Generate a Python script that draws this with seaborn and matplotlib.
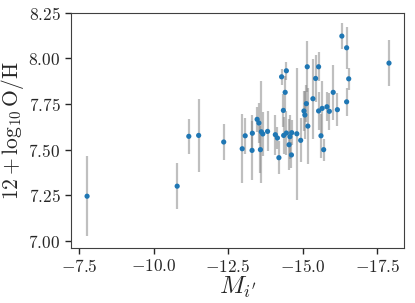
import numpy as np
import pandas as pd
import seaborn as sns
import matplotlib.pyplot as plt

# absolute magnitude, oxygen abundance and its uncertainty
mag_i = [-7.77, -10.79, -11.18, -11.51, -12.35, -12.97, -13.07, -13.30, -13.31,
         -13.47, -13.53, -13.58, -13.61, -13.66, -13.82, -14.08, -14.15, -14.20,
         -14.29, -14.35, -14.36, -14.41, -14.45, -14.45, -14.54, -14.57, -14.62,
         -14.63, -14.80, -14.93, -15.04, -15.07, -15.12, -15.15, -15.17, -15.34,
         -15.43, -15.53, -15.53, -15.61, -15.65, -15.70, -15.81, -15.89, -16.02,
         -16.16, -16.31, -16.47, -16.47, -16.54, -17.89]
oh = [7.245, 7.30, 7.573, 7.578, 7.542, 7.505, 7.576, 7.496, 7.59,
      7.666, 7.646, 7.50, 7.598, 7.586, 7.60, 7.582, 7.564, 7.456,
      7.899, 7.715, 7.578, 7.814, 7.932, 7.591, 7.527, 7.571, 7.471,
      7.593, 7.587, 7.551, 7.712, 7.69, 7.752, 7.954, 7.629, 7.779,
      7.89, 7.954, 7.712, 7.576, 7.726, 7.50, 7.735, 7.71, 7.814,
      7.719, 8.122, 8.058, 7.762, 7.888, 7.974]
oh_err = [0.22, 0.125, 0.095, 0.20, 0.10, 0.19, 0.10, 0.16, 0.10,
          0.07, 0.11, 0.13, 0.28, 0.12, 0.11, 0.11, 0.06, 0.09,
          0.045, 0.09, 0.10, 0.09, 0.05, 0.12, 0.14, 0.12, 0.07,
          0.07, 0.36, 0.12, 0.11, 0.13, 0.10, 0.14, 0.21, 0.22,
          0.13, 0.08, 0.105, 0.12, 0.15, 0.06, 0.08, 0.10, 0.15,
          0.09, 0.07, 0.115, 0.075, 0.06, 0.125]

df = pd.DataFrame({'M': mag_i, 'OH': oh, 'err': oh_err})

sns.set_style('ticks', {'axes.edgecolor': '.25'})
plt.rcParams['font.family'] = 'serif'
plt.rcParams['font.serif'] = ['cmr10', 'DejaVu Serif']
plt.rcParams['mathtext.fontset'] = 'cm'
plt.rcParams['axes.formatter.use_mathtext'] = True

fig, ax = plt.subplots(figsize=(4.15, 3.03), dpi=100)
fig.subplots_adjust(left=0.171, right=0.974, top=0.958, bottom=0.1825)

ax.errorbar(df['M'], df['OH'], yerr=df['err'], fmt='none',
            ecolor='grey', alpha=0.5, elinewidth=1.6, zorder=1)
sns.scatterplot(data=df, x='M', y='OH', ax=ax, color='#1f77b4',
                s=14, edgecolor='none', zorder=2)

ax.set_xlim(-7.23, -18.4)
ax.set_ylim(6.963, 8.25)
ax.set_xticks([-7.5, -10.0, -12.5, -15.0, -17.5])
ax.set_yticks([7.0, 7.25, 7.5, 7.75, 8.0, 8.25])
ax.tick_params(labelsize=12.5, length=4, width=1)
ax.set_xlabel(r"$M_{i'}$", fontsize=18, labelpad=0)
ax.set_ylabel(r'$12 + \log_{10}\mathrm{O/H}$', fontsize=15.5, labelpad=2)

plt.savefig('out.png')
